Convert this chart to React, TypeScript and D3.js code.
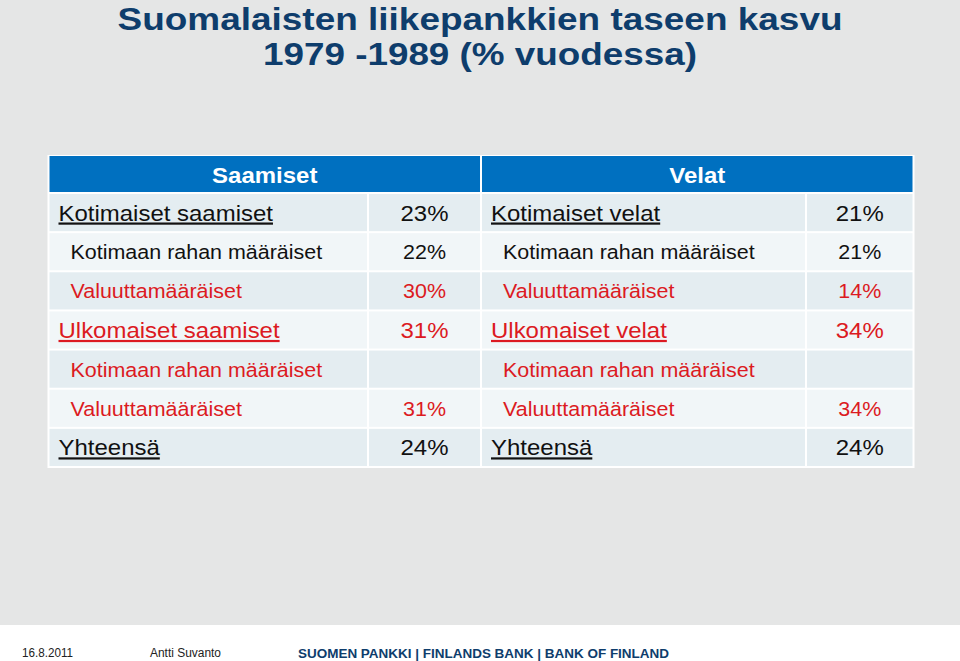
import React from "react";
import * as d3 from "d3";

const titleLines = ["Suomalaisten liikepankkien taseen kasvu", "1979 -1989 (% vuodessa)"];
const sideHeaders = ["Saamiset", "Velat"];
const leftLabels = [
  "Kotimaiset saamiset",
  "Kotimaan rahan määräiset",
  "Valuuttamääräiset",
  "Ulkomaiset saamiset",
  "Kotimaan rahan määräiset",
  "Valuuttamääräiset",
  "Yhteensä",
];
const leftValues = ["23%", "22%", "30%", "31%", "", "31%", "24%"];
const rightLabels = [
  "Kotimaiset velat",
  "Kotimaan rahan määräiset",
  "Valuuttamääräiset",
  "Ulkomaiset velat",
  "Kotimaan rahan määräiset",
  "Valuuttamääräiset",
  "Yhteensä",
];
const rightValues = ["21%", "21%", "14%", "34%", "", "34%", "24%"];
// level 0 = main row (underlined), 1 = sub row
const rowLevels = [0, 1, 1, 0, 1, 1, 0];
// foreign-currency related rows
const rowForeign = [false, false, true, true, true, true, false];
const footerDate = "16.8.2011";
const footerAuthor = "Antti Suvanto";
const footerBank = "SUOMEN PANKKI | FINLANDS BANK | BANK OF FINLAND";

const W = 960;
const H = 661;
const RED = "#dc1a22";
const BLACK = "#111";
const SX = 1.09;
const FONT = "'Liberation Sans', Arial, sans-serif";

export default function App() {
  const tableTop = 156;
  const headerBottom = 193;
  const tableBottom = 467;
  const rowIdx = d3.range(leftLabels.length);
  const y = d3.scaleBand<number>().domain(rowIdx).range([headerBottom, tableBottom]);

  const sides = [
    { x0: 48.5, xDiv: 368, x1: 481, labels: leftLabels, values: leftValues, header: sideHeaders[0] },
    { x0: 481, xDiv: 806, x1: 913.5, labels: rightLabels, values: rightValues, header: sideHeaders[1] },
  ];
  const bandColor = (i: number) => (i % 2 === 0 ? "#e4edf1" : "#f1f6f8");

  return (
    <svg width={W} height={H} style={{ position: "absolute", left: 0, top: 0 }}>
      <rect x={0} y={0} width={W} height={H} fill="#e5e6e6" />
      <rect x={0} y={625} width={W} height={H - 625} fill="#ffffff" />

      {titleLines.map((t, i) => (
        <text
          key={i}
          x={480}
          y={i === 0 ? 30 : 65}
          textAnchor="middle"
          fontFamily={FONT}
          fontWeight="bold"
          fontSize={32}
          fill="#0e3d6c"
          textLength={i === 0 ? 725 : 434}
          lengthAdjust="spacingAndGlyphs"
        >
          {t}
        </text>
      ))}

      <rect x={47.5} y={tableTop - 1} width={867} height={tableBottom - tableTop + 2} fill="#ffffff" />

      {sides.map((s, si) => (
        <g key={si}>
          <rect
            x={s.x0 + 1}
            y={tableTop}
            width={s.x1 - s.x0 - 2}
            height={headerBottom - tableTop - 1}
            fill="#0070c0"
          />
          <text
            transform={`translate(${(s.x0 + s.x1) / 2},183) scale(${SX},1)`}
            textAnchor="middle"
            fontFamily={FONT}
            fontWeight="bold"
            fontSize={22}
            fill="#ffffff"
          >
            {s.header}
          </text>
          {rowIdx.map((i) => {
            const top = y(i)!;
            const h = y.bandwidth();
            const color = rowForeign[i] ? RED : BLACK;
            const main = rowLevels[i] === 0;
            const fs = main ? 22 : 19.7;
            const base = top + h / 2 + (main ? 8 : 7.5);
            return (
              <g key={i}>
                <rect x={s.x0 + 1} y={top + 1} width={s.xDiv - s.x0 - 2} height={h - 2} fill={bandColor(i)} />
                <rect x={s.xDiv + 1} y={top + 1} width={s.x1 - s.xDiv - 2} height={h - 2} fill={bandColor(i)} />
                <text
                  transform={`translate(${s.x0 + (main ? 10 : 22)},${base}) scale(${SX},1)`}
                  fontFamily={FONT}
                  fontSize={fs}
                  fill={color}
                  style={{ textDecoration: main ? "underline" : "none" }}
                >
                  {s.labels[i]}
                </text>
                <text
                  transform={`translate(${(s.xDiv + s.x1) / 2},${base}) scale(${SX},1)`}
                  textAnchor="middle"
                  fontFamily={FONT}
                  fontSize={fs}
                  fill={color}
                >
                  {s.values[i]}
                </text>
              </g>
            );
          })}
        </g>
      ))}

      <text x={22} y={657} fontFamily={FONT} fontSize={12.5} fill="#222" textLength={51} lengthAdjust="spacingAndGlyphs">
        {footerDate}
      </text>
      <text x={150} y={657} fontFamily={FONT} fontSize={12.5} fill="#222" textLength={71} lengthAdjust="spacingAndGlyphs">
        {footerAuthor}
      </text>
      <text x={298} y={658} fontFamily={FONT} fontWeight="bold" fontSize={13.5} fill="#0e3d6c" textLength={371} lengthAdjust="spacingAndGlyphs">
        {footerBank}
      </text>
    </svg>
  );
}
